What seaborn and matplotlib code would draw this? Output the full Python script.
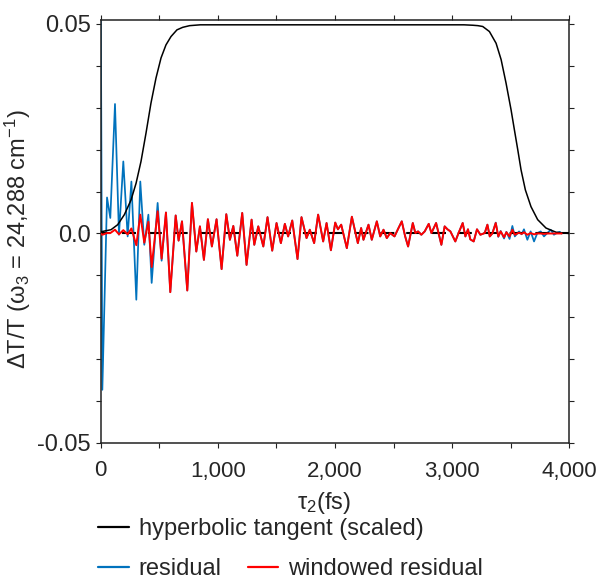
import numpy as np
import pandas as pd
import matplotlib
matplotlib.use("Agg")
import matplotlib.pyplot as plt
from matplotlib.lines import Line2D
from matplotlib.ticker import FixedLocator, MultipleLocator
import seaborn as sns

# ---- data -------------------------------------------------------------
# Early waiting times (fs): the window is still rising, so the residual and
# the windowed residual differ.
tau_early = [0, 14, 54, 82, 122, 156, 193, 230, 262, 304, 338, 372, 407,
             435, 486, 520, 557, 594]
residual_early = [0.062, -0.0373, 0.0086, 0.0037, 0.0309, -0.0003, 0.0172,
                  -0.0007, 0.0124, -0.0158, 0.0124, -0.0027, 0.0045, -0.0118,
                  0.0073, -0.0065, 0.0050, -0.0140]
windowed_early = [0.0, -0.0003, 0.0001, 0.0001, 0.0009, -0.0002, 0.0008,
                  -0.0002, 0.0012, -0.0028, 0.0045, -0.0022, 0.0028, -0.0080,
                  0.0053, -0.0060, 0.0050, -0.0140]

# Flat part of the window: residual and windowed residual coincide.
tau_mid = [640, 665, 694, 739, 779, 816, 847, 881, 915, 949, 989, 1032,
           1072, 1103, 1132, 1166, 1208, 1245, 1288, 1311, 1345, 1388, 1424,
           1464, 1501, 1538, 1572, 1600, 1635, 1680, 1714, 1757, 1785, 1822,
           1856, 1899, 1928, 1965, 2002, 2025, 2053, 2101, 2144, 2172, 2195,
           2223, 2243, 2286, 2314, 2357, 2386, 2414, 2442, 2471, 2508, 2542,
           2570, 2599, 2624, 2664, 2686, 2709, 2737, 2766, 2800, 2823, 2863,
           2908, 2936, 2960, 2985, 3027, 3056, 3090, 3113, 3135, 3155, 3184,
           3212, 3241, 3278]
mid_values = [0.0043, -0.0017, 0.0029, -0.0136, 0.0073, -0.0043, 0.0017,
              -0.0063, 0.0034, -0.0031, 0.0034, -0.0085, 0.0046, -0.0015,
              0.0018, -0.0053, 0.0049, -0.0075, 0.0033, -0.0027, 0.0017,
              -0.0031, 0.0039, -0.0041, 0.0025, -0.0023, 0.0023, -0.0007,
              0.0031, -0.0061, 0.0039, -0.0011, 0.0009, -0.0023, 0.0045,
              -0.0019, 0.0025, -0.0040, 0.0026, 0.0010, 0.0021, -0.0035,
              0.0040, 0.0005, -0.0023, 0.0013, -0.0015, 0.0021, -0.0015,
              0.0029, -0.0007, 0.0009, -0.0011, 0.0001, -0.0007, 0.0013,
              0.0029, -0.0007, -0.0031, 0.0025, 0.0001, 0.0005, -0.0003,
              0.0005, 0.0023, 0.0001, 0.0025, -0.0027, 0.0017, 0.0010,
              0.0005, -0.0019, 0.0002, 0.0025, -0.0007, 0.0010, -0.0014,
              -0.0019, 0.0010, -0.0003, 0.0001]

# Late waiting times (fs): the window falls back to zero.
tau_late = [3301, 3321, 3343, 3372, 3394, 3414, 3443, 3463, 3490, 3514, 3535,
            3571, 3593, 3613, 3642, 3670, 3699, 3727, 3756, 3784, 3812, 3841,
            3869, 3898, 3918, 3935]
residual_late = [0.0021, -0.0007, 0.0000, 0.0026, -0.0008, 0.0006, -0.0012,
                 0.0004, -0.0013, 0.0018, -0.0007, 0.0005, -0.0002, 0.0010,
                 -0.0015, 0.0005, -0.0019, 0.0001, 0.0005, -0.0007, 0.0001,
                 0.0009, -0.0003, 0.0002, 0.0004, 0.0000]
windowed_late = [0.0021, -0.0007, 0.0000, 0.0025, -0.0007, 0.0005, -0.0009,
                 0.0003, -0.0007, 0.0009, -0.0003, 0.0002, -0.0001, 0.0003,
                 -0.0003, 0.0001, -0.0002, 0.0000, 0.0000, -0.0001, 0.0000,
                 0.0000, 0.0000, 0.0000, 0.0000, 0.0000]

# Scaled hyperbolic-tangent window.
tanh_tau = [0, 88, 145, 202, 259, 302, 344, 387, 429, 472, 515, 557, 600,
            651, 700, 759, 850, 1500, 2500, 3100, 3176, 3220, 3261, 3318,
            3375, 3418, 3460, 3503, 3531, 3560, 3588, 3625, 3673, 3730, 3801,
            3887, 3957, 4000]
tanh_values = [0.0004, 0.0009, 0.0021, 0.0045, 0.0080, 0.0120, 0.0172,
               0.0240, 0.0311, 0.0371, 0.0419, 0.0450, 0.0470, 0.0486,
               0.0492, 0.0496, 0.0498, 0.0498, 0.0498, 0.0498, 0.0497,
               0.0496, 0.0494, 0.0482, 0.0454, 0.0415, 0.0359, 0.0295,
               0.0248, 0.0200, 0.0152, 0.0104, 0.0064, 0.0033, 0.0013,
               0.0003, 0.0001, 0.0000]

x_ticks = [0, 1000, 2000, 3000, 4000]
x_tick_labels = ["0", "1,000", "2,000", "3,000", "4,000"]
y_ticks = [-0.05, 0.0, 0.05]
y_tick_labels = ["-0.05", "0.0", "0.05"]

series_labels = ["hyperbolic tangent (scaled)", "residual", "windowed residual"]

# ---- tables --------------------------------------------------------------
tau_all = tau_early + tau_mid + tau_late
residual_df = pd.DataFrame({"tau": tau_all,
                            "value": residual_early + mid_values + residual_late})
windowed_df = pd.DataFrame({"tau": tau_all,
                            "value": windowed_early + mid_values + windowed_late})
tanh_df = pd.DataFrame({"tau": tanh_tau, "value": tanh_values})

# ---- style ---------------------------------------------------------------
sns.set_theme(style="ticks")
plt.rcParams["font.family"] = ["Liberation Sans", "DejaVu Sans"]
plt.rcParams["mathtext.fontset"] = "custom"
plt.rcParams["mathtext.rm"] = "Liberation Sans"
plt.rcParams["mathtext.it"] = "Liberation Sans:italic"
plt.rcParams["mathtext.default"] = "regular"

BLUE = "#0072BD"
RED = "#FF0000"
BLACK = "#000000"

fig = plt.figure(figsize=(6.0, 5.81), dpi=100)
ax = fig.add_axes([100.7 / 600, 1 - 443 / 581, 468.6 / 600, 423 / 581])

sns.lineplot(data=residual_df, x="tau", y="value", color=BLUE, linewidth=1.25,
             estimator=None, sort=False, ax=ax, zorder=2)
sns.lineplot(data=tanh_df, x="tau", y="value", color=BLACK, linewidth=1.1,
             estimator=None, sort=False, ax=ax, zorder=3)

# dashed zero reference
lw0 = 1.5
ax.axhline(0.0, color=BLACK, linewidth=lw0, zorder=3,
           linestyle=(2.3, (6.7, 5.7)))

sns.lineplot(data=windowed_df, x="tau", y="value", color=RED, linewidth=1.4,
             estimator=None, sort=False, ax=ax, zorder=4)

ax.set_xlim(0, 4000)
ax.set_ylim(-0.05, 0.05095)

ax.xaxis.set_major_locator(FixedLocator(x_ticks))
ax.set_xticklabels(x_tick_labels)
ax.xaxis.set_minor_locator(MultipleLocator(500))
ax.yaxis.set_major_locator(FixedLocator(y_ticks))
ax.set_yticklabels(y_tick_labels)
ax.yaxis.set_minor_locator(MultipleLocator(0.01))

ax.tick_params(which="both", direction="out", length=3.6, width=0.8,
               color="#222222", top=True, right=True)
ax.tick_params(axis="x", which="major", labelsize=16, pad=9)
ax.tick_params(axis="y", which="major", labelsize=17, pad=3.6)

for side in ["left", "right", "top", "bottom"]:
    ax.spines[side].set_visible(True)
    ax.spines[side].set_linewidth(1.1)
    ax.spines[side].set_color("#222222")

ax.set_xlabel(r"τ$_2$(fs)", fontsize=17)
ax.xaxis.set_label_coords(0.4776, -0.111)
ax.set_ylabel(r"ΔT/T (ω$_3$ = 24,288 cm$^{-1}$)", fontsize=17)
ax.yaxis.set_label_coords(-0.1445, 0.482)

# ---- legend below the axes --------------------------------------------
h_black = Line2D([], [], color=BLACK, linewidth=1.6)
h_blue = Line2D([], [], color=BLUE, linewidth=1.6)
h_red = Line2D([], [], color=RED, linewidth=1.6)

legend_kw = dict(loc="center left", frameon=False, fontsize=17,
                 handlelength=1.3, handletextpad=0.42, borderpad=0,
                 borderaxespad=0)
fig.legend(handles=[h_black], labels=[series_labels[0]],
           bbox_to_anchor=(98 / 600, 1 - 529 / 581), **legend_kw)
fig.legend(handles=[h_blue, h_red], labels=series_labels[1:], ncol=2,
           columnspacing=1.1, bbox_to_anchor=(98 / 600, 1 - 569 / 581),
           **legend_kw)

fig.savefig("out.png", dpi=100)
